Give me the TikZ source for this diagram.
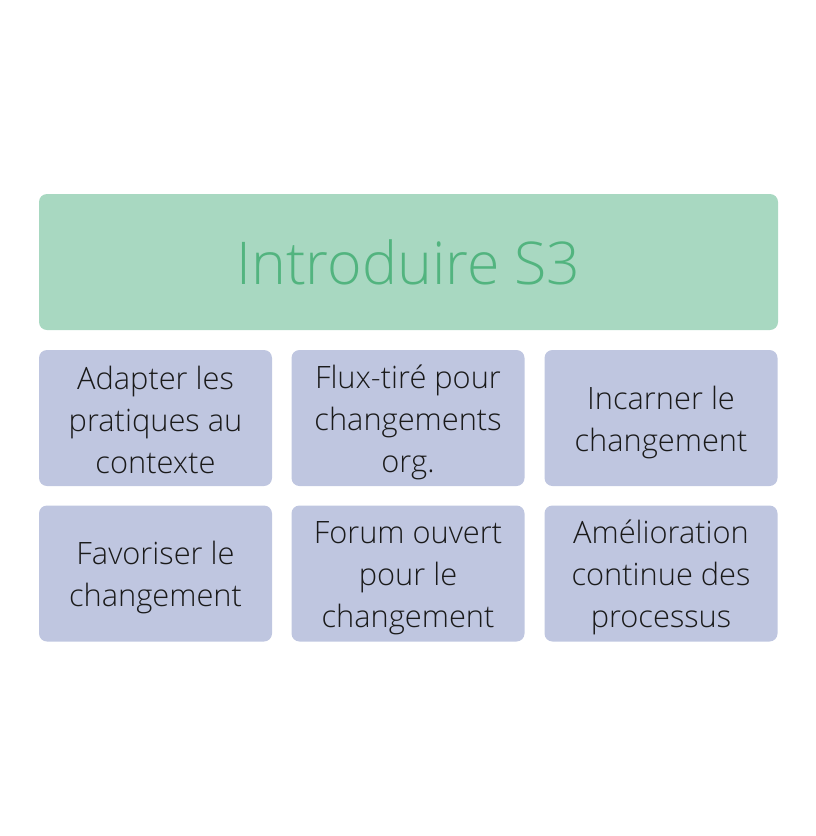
\documentclass[tikz,border=0pt]{standalone}
\usepackage{fontspec}
\setmainfont{Open Sans Light}
\definecolor{headfill}{HTML}{A8D8C1}
\definecolor{headtext}{HTML}{52B47F}
\definecolor{cellfill}{HTML}{BFC6E0}
\definecolor{celltext}{HTML}{1A1A1A}
% fixed line box so that every cell text is centred on its letters
\newcommand\linestrut{\rule[-5pt]{0pt}{37pt}}
\begin{document}
\begin{tikzpicture}[x=1pt,y=-1pt,
  headbox/.style={fill=headfill, rounded corners=8pt, minimum width=739pt, minimum height=136pt,
    inner sep=0pt, text=headtext, font=\fontsize{59}{61}\selectfont},
  cellbox/.style={fill=cellfill, rounded corners=8pt, minimum width=233pt, minimum height=136pt,
    inner sep=0pt, text=celltext, align=center, font=\fontsize{30.8}{42}\selectfont}]
  \useasboundingbox (0,0) rectangle (816,836);
  \node[headbox] (head) at (408.5,262) {Introduire S3};
  % first row
  \node[cellbox] (c11) at (155.5,418) {\linestrut Adapter les\\pratiques au\\contexte\linestrut};
  \node[cellbox] (c12) at (408,418) {\linestrut Flux-tiré pour\\changements\\org.\linestrut};
  \node[cellbox] (c13) at (661,418) {\linestrut Incarner le\\changement\linestrut};
  % second row
  \node[cellbox] (c21) at (155.5,573.5) {\linestrut Favoriser le\\changement\linestrut};
  \node[cellbox] (c22) at (408,573.5) {\linestrut Forum ouvert\\pour le\\changement\linestrut};
  \node[cellbox] (c23) at (661,573.5) {\linestrut Amélioration\\continue des\\processus\linestrut};
\end{tikzpicture}
\end{document}
